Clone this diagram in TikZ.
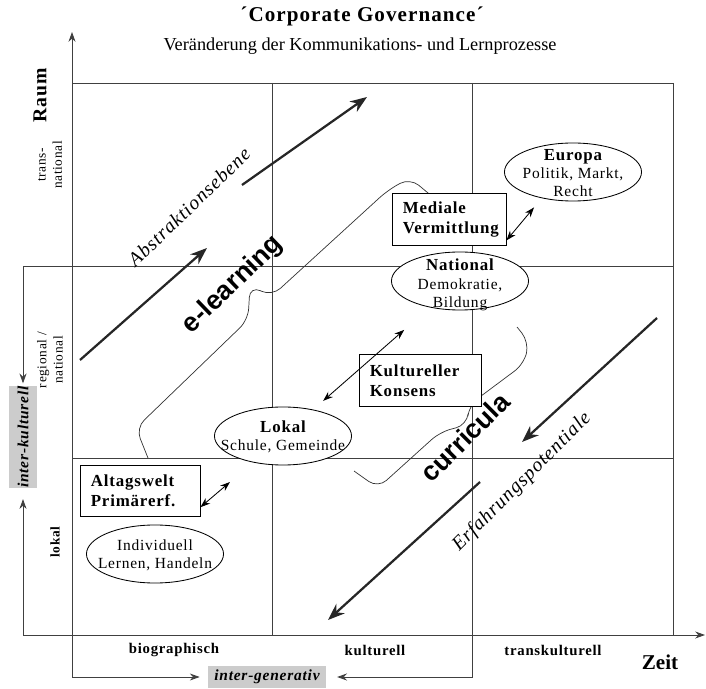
\documentclass[tikz,border=0pt]{standalone}
\usepackage{fontspec}
\setmainfont{Liberation Serif}
\setsansfont{Liberation Sans}
\newfontfamily\spaced[LetterSpace=5]{Liberation Serif}
\usetikzlibrary{shapes.geometric,arrows.meta,positioning}
\newcommand{\fsz}[2]{\fontsize{#1}{#2}\selectfont}

\begin{document}
\begin{tikzpicture}[x=0.025cm,y=-0.025cm,
	every node/.style={inner sep=0pt},
	gridline/.style={line width=0.6pt,black!75},
	band/.style={line width=0.5pt,black!80,rounded corners=8pt},
	ovalnode/.style={draw,fill=white,ellipse,line width=0.6pt,minimum width=3.425cm,minimum height=1.45cm},
	ovaltext/.style={align=center,font=\spaced\fsz{11}{13}},
	boxnode/.style={draw,fill=white,rectangle,line width=0.6pt,minimum height=1.28cm,inner xsep=0.27cm,align=left,font=\spaced\bfseries\fsz{12}{14.5}},
	greynode/.style={fill=black!20,font=\spaced\bfseries\itshape\fsz{11}{13}},
	dblarrow/.style={{Stealth[length=7pt,width=5pt]}-{Stealth[length=7pt,width=5pt]},line width=0.6pt},
	bigarrow/.style={-{Stealth[length=12pt,width=9pt]},line width=1.6pt,black!85},
	axisarrow/.style={-{Stealth[length=7pt,width=5pt]},line width=0.6pt,black!75},
	slanted/.style={font=\spaced\itshape\fsz{14}{16}},
	bigsans/.style={font=\sffamily\bfseries\fsz{19}{22}},
	scalelabel/.style={font=\spaced\fsz{9.5}{11.5},align=center},
	axislabel/.style={font=\spaced\bfseries\fsz{10.5}{12}},
	]
	\useasboundingbox (0,0) rectangle (706,689);
	
	% title
	\node[font=\spaced\bfseries\fsz{15}{18}] (title) at (362,16) {´Corporate Governance´};
	\node[font=\fsz{13}{15}] (subtitle) at (360,46) {Veränderung der Kommunikations- und Lernprozesse};
	
	% the grid
	\foreach \y in {83,266,458}
	\draw[gridline] (72,\y) -- (673,\y);
	\foreach \x in {272,472,673}
	\draw[gridline] (\x,83) -- (\x,635);
	
	% the axes
	\coordinate (origin) at (72,635);
	\coordinate (raumtip) at (72,32);
	\coordinate (zeittip) at (705,635);
	\draw[axisarrow] (origin) -- (raumtip);
	\draw[axisarrow] (origin) -- (zeittip);
	\node[font=\spaced\bfseries\fsz{14}{16},rotate=90] (raum) at (40,95) {Raum};
	\node[font=\bfseries\fsz{15}{17}] (zeit) at (660,662) {Zeit};
	
	% the scale on Raum
	\node[scalelabel,rotate=90] (transnat) at (50,165) {trans-\\national};
	\node[scalelabel,rotate=90] (regnat) at (50,360) {regional /\\national};
	\node[scalelabel,font=\spaced\bfseries\fsz{9.5}{11.5},rotate=90] (lokalscale) at (55,542) {lokal};
	
	% the scale on Zeit
	\node[axislabel] (bio) at (174,650) {biographisch};
	\node[axislabel] (kult) at (375,650) {kulturell};
	\node[axislabel] (transkult) at (553,650) {transkulturell};
	
	% the brackets
	\node[greynode,rotate=90,minimum width=2.375cm,minimum height=0.675cm] (interkult) at (23,437) {inter-kulturell};
	\node[greynode,minimum width=2.93cm,minimum height=0.55cm] (intergen) at (267,677) {inter-generativ};
	\draw[axisarrow,shorten >=2pt] (72,266) -| (interkult.east);
	\draw[axisarrow,shorten >=8pt] (origin) -| (interkult.west);
	\draw[axisarrow,shorten >=6pt] (origin) |- (intergen.west);
	\draw[axisarrow,shorten >=8pt] (472,635) |- (intergen.east);
	
	% the bands
	\draw[band] (148,458) -- (136,428) -- (248,320) -- (250,286) -- (272,296) -- (388,190) -- (410,178) -- (434,198);
	\draw[band] (354,471) -- (378,488) -- (440,432) -- (467,425) -- (469,405) -- (524,364) -- (529,342) -- (517,327);
	
	% the big arrows
	\draw[bigarrow] (80,360) -- (207,248);
	\draw[bigarrow] (242,185) -- (367,97);
	\draw[bigarrow] (657,318) -- (522,442);
	\draw[bigarrow] (480,482) -- (328,620);
	\node[slanted,rotate=44] (abstr) at (189,207) {Abstraktionsebene};
	\node[slanted,rotate=45] (erfahr) at (522,482) {Erfahrungspotentiale};
	\node[bigsans,rotate=44] (elearn) at (233,285) {e-learning};
	\node[bigsans,rotate=45] (curric) at (465,437) {curricula};
	
	% the boxes
	\node[boxnode,text width=2.31cm] (mediale) at (449,219.5) {Mediale\\Vermittlung};
	\node[boxnode,text width=2.51cm] (konsens) at (420,380.5) {Kultureller\\Konsens};
	\node[boxnode,text width=2.46cm] (alltag) at (140,491) {Altagswelt\\Primärerf.};
	
	% the ovals
	\node[ovalnode] (europa) at (573,172) {};
	\node[ovaltext] (europatext) at (573,173) {{\bfseries\fsz{12}{13}Europa}\\Politik, Markt,\\Recht};
	\node[ovalnode] (national) at (460,281) {};
	\node[ovaltext] (nationaltext) at (460,285) {{\bfseries\fsz{12}{13}National}\\Demokratie,\\Bildung};
	\node[ovalnode] (lokal) at (283,436) {};
	\node[ovaltext] (lokaltext) at (283,437) {{\bfseries\fsz{12}{13}Lokal}\\Schule, Gemeinde};
	\node[ovalnode] (indiv) at (155,554) {};
	\node[ovaltext] (indivtext) at (155,555) {Individuell\\Lernen, Handeln};
	
	% the links
	\coordinate (alltagtip) at (230,482);
	\draw[dblarrow] (alltag.-15) -- (alltagtip);
	\draw[dblarrow,shorten <=0.33cm,shorten >=0.85cm] (lokal) -- (national);
	\draw[dblarrow,shorten >=0.3cm] (mediale.-20) -- (europa.220);
\end{tikzpicture}
\end{document}
